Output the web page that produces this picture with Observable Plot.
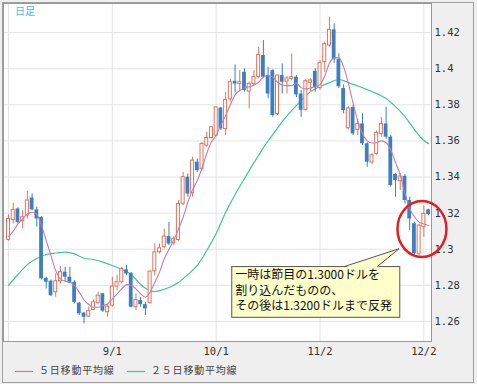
<!DOCTYPE html>
<html><head><meta charset="utf-8">
<script src="https://cdn.jsdelivr.net/npm/d3@7"></script>
<script src="https://cdn.jsdelivr.net/npm/@observablehq/plot@0.6"></script>
<style>
html,body{margin:0;padding:0;background:#fff;}
#chart{position:relative;width:477px;height:384px;}
svg{display:block;}
</style></head><body><div id="chart"></div>
<script>
const dates = ["8/2","8/3","8/4","8/5","8/6","8/9","8/10","8/11","8/12","8/13","8/16","8/17","8/18","8/19","8/20","8/23","8/24","8/25","8/26","8/27","8/30","8/31",
"9/1","9/2","9/3","9/6","9/7","9/8","9/9","9/10","9/13","9/14","9/15","9/16","9/17","9/20","9/21","9/22","9/23","9/24","9/27","9/28","9/29","9/30",
"10/1","10/4","10/5","10/6","10/7","10/8","10/11","10/12","10/13","10/14","10/15","10/18","10/19","10/20","10/21","10/22","10/25","10/26","10/27","10/28","10/29",
"11/1","11/2","11/3","11/4","11/5","11/8","11/9","11/10","11/11","11/12","11/15","11/16","11/17","11/18","11/19","11/22","11/23","11/24","11/25","11/26","11/29","11/30",
"12/1","12/2","12/3"];
const opens = [1.3052,1.3162,1.3223,1.3155,1.3186,1.3284,1.3218,1.3177,1.2839,1.2823,
1.2762,1.2823,1.2873,1.2845,1.2817,1.2701,1.2646,1.2627,1.2664,1.2701,
1.2753,1.2651,1.2688,1.2793,1.2817,1.2886,1.2867,1.2679,1.2716,1.2693,
1.2701,1.2878,1.2983,1.3011,1.3070,1.3033,1.3051,1.3251,1.3399,1.3310,
1.3482,1.3445,1.3574,1.3616,1.3629,1.3782,1.3666,1.3830,1.3930,1.3915,
1.3980,1.3873,1.3916,1.3953,1.4073,1.3962,1.3989,1.3749,1.3962,1.3928,
1.3944,1.3953,1.3860,1.3772,1.3922,1.3985,1.3893,1.4036,1.4128,1.4215,
1.4050,1.3890,1.3670,1.3785,1.3661,1.3694,1.3584,1.3480,1.3528,1.3639,
1.3694,1.3621,1.3414,1.3377,1.3403,1.3270,1.3141,1.2975,1.3122,1.3218];
const highs = [1.3190,1.3255,1.3230,1.3214,1.3321,1.3307,1.3233,1.3180,1.2845,1.2830,
1.2863,1.2904,1.2900,1.2900,1.2826,1.2706,1.2650,1.2679,1.2719,1.2762,
1.2756,1.2697,1.2845,1.2854,1.2900,1.2910,1.2870,1.2753,1.2734,1.2706,
1.2880,1.3030,1.3029,1.3112,1.3149,1.3070,1.3269,1.3426,1.3417,1.3509,
1.3500,1.3592,1.3648,1.3679,1.3786,1.3786,1.3869,1.3940,1.4021,1.3990,
1.3999,1.3925,1.3989,1.4119,1.4156,1.4008,1.3995,1.3962,1.4026,1.3955,
1.4082,1.3962,1.3880,1.3940,1.3945,1.4000,1.4045,1.4146,1.4285,1.4248,
1.4083,1.3910,1.3790,1.3795,1.3720,1.3750,1.3590,1.3530,1.3655,1.3731,
1.3787,1.3630,1.3418,1.3418,1.3414,1.3288,1.3150,1.3140,1.3242,1.3222];
const lows = [1.3045,1.3140,1.3140,1.3113,1.3168,1.3214,1.3122,1.2830,1.2780,1.2738,
1.2734,1.2808,1.2817,1.2808,1.2697,1.2633,1.2587,1.2623,1.2660,1.2697,
1.2651,1.2623,1.2679,1.2771,1.2808,1.2854,1.2675,1.2660,1.2679,1.2633,
1.2697,1.2854,1.2974,1.3002,1.3020,1.3020,1.3044,1.3242,1.3288,1.3288,
1.3426,1.3435,1.3565,1.3611,1.3624,1.3657,1.3629,1.3815,1.3866,1.3870,
1.3870,1.3777,1.3905,1.3945,1.3945,1.3833,1.3731,1.3740,1.3860,1.3860,
1.3934,1.3840,1.3731,1.3765,1.3870,1.3870,1.3880,1.3980,1.4120,1.4030,
1.3890,1.3750,1.3660,1.3630,1.3630,1.3575,1.3454,1.3470,1.3520,1.3620,
1.3610,1.3345,1.3288,1.3325,1.3250,1.3104,1.2965,1.2965,1.3067,1.3185];
const closes = [1.3168,1.3218,1.3149,1.3177,1.3270,1.3218,1.3168,1.2836,1.2817,1.2743,
1.2823,1.2873,1.2845,1.2812,1.2706,1.2642,1.2623,1.2657,1.2706,1.2743,
1.2657,1.2682,1.2793,1.2817,1.2891,1.2863,1.2679,1.2719,1.2693,1.2670,
1.2876,1.2983,1.3005,1.3070,1.3029,1.3057,1.3251,1.3399,1.3306,1.3491,
1.3435,1.3583,1.3616,1.3675,1.3786,1.3666,1.3827,1.3925,1.3915,1.3925,
1.3879,1.3916,1.3953,1.4076,1.3953,1.3860,1.3740,1.3962,1.3925,1.3947,
1.3953,1.3855,1.3770,1.3931,1.3935,1.3895,1.4030,1.4137,1.4215,1.4050,
1.3900,1.3768,1.3780,1.3639,1.3694,1.3584,1.3482,1.3520,1.3645,1.3694,
1.3621,1.3353,1.3381,1.3403,1.3270,1.3168,1.2975,1.3131,1.3196,1.3192];
const ma5 = [1.3070,1.3100,1.3140,1.3168,1.3196,1.3205,1.3192,1.3131,1.3048,1.2965,
1.2882,1.2836,1.2823,1.2819,1.2799,1.2762,1.2719,1.2694,1.2679,1.2679,
1.2688,1.2697,1.2725,1.2753,1.2780,1.2804,1.2799,1.2780,1.2753,1.2734,
1.2762,1.2817,1.2873,1.2946,1.3000,1.3050,1.3110,1.3177,1.3260,1.3330,
1.3380,1.3450,1.3530,1.3595,1.3630,1.3690,1.3740,1.3800,1.3855,1.3880,
1.3895,1.3900,1.3910,1.3925,1.3953,1.3962,1.3953,1.3925,1.3910,1.3906,
1.3906,1.3920,1.3895,1.3888,1.3893,1.3900,1.3912,1.3960,1.4030,1.4060,
1.4060,1.4010,1.3920,1.3810,1.3710,1.3640,1.3600,1.3588,1.3590,1.3600,
1.3590,1.3550,1.3480,1.3410,1.3310,1.3225,1.3180,1.3150,1.3140,1.3131];
const ma25Days = [0,2,4,6,8,10,12,14,16,18,20,22,24,26,28,30,31,32,34,36,38,40,42,44,46,48,50,52,53,54,56,58,60,62,64,66,68,70,71,72,74,76,78,80,82,84,86,88,89];
const ma25Values = [1.2800,1.2860,1.2915,1.2949,1.2971,1.2979,1.2984,1.2974,1.2950,1.2943,1.2929,1.2910,1.2888,1.2860,1.2805,1.2771,
1.2766,1.2771,1.2788,1.2816,1.2860,1.2910,1.2993,1.3087,1.3203,1.3303,1.3392,1.3480,
1.3519,1.3563,1.3635,1.3707,1.3768,1.3823,1.3873,1.3901,1.3923,1.3940,
1.3934,1.3923,1.3904,1.3884,1.3862,1.3835,1.3790,1.3735,1.3663,1.3602,1.3585];
const yTicks = [1.26,1.28,1.30,1.32,1.34,1.36,1.38,1.40,1.42];
const xTickLabels = ["9/1","10/1","11/2","12/2"];
const gridDates = ["8/2","9/1","10/1","11/2","12/2"];
const legendLabels = ["５日移動平均線","２５日移動平均線"];
const calloutLines = ["一時は節目の1.3000ドルを","割り込んだものの、","その後は1.3200ドルまで反発"];
const periodLabel = "日足";

const UP = "#e3735a", DOWN = "#3b7fc1", MA5C = "#c77aa9", MA25C = "#3ec88d";
const candles = dates.map((d, i) => ({i, date: d, open: opens[i], high: highs[i], low: lows[i], close: closes[i], up: closes[i] >= opens[i]}));
const ups = candles.filter(d => d.up), downs = candles.filter(d => !d.up);
const ma5Data = ma5.map((v, i) => ({i, v}));
const ma25Data = ma25Days.map((d, k) => ({i: d, v: ma25Values[k]}));
const xTickIdx = xTickLabels.map(l => dates.indexOf(l));
const gridIdx = gridDates.map(l => dates.indexOf(l));

const W = 477, H = 384;
const plot = Plot.plot({
  width: W, height: H,
  marginLeft: 3, marginRight: 46, marginTop: 3, marginBottom: 43,
  style: {background: "#efefef", fontFamily: "'DejaVu Sans Mono', monospace", fontSize: "10.5px", color: "#333", overflow: "visible"},
  x: {type: "linear", domain: [-1.06, 89.62], ticks: xTickIdx, tickFormat: i => dates[i], tickSize: 0, tickPadding: 6, label: null},
  y: {type: "linear", domain: [1.2489, 1.4361], ticks: yTicks, tickFormat: d => String(+d.toFixed(2)), tickSize: 0, tickPadding: 3, label: null, axis: "right"},
  marks: [
    Plot.frame({fill: "white"}),
    Plot.ruleY(yTicks, {stroke: "#e4e4e4", strokeWidth: 1}),
    Plot.ruleX(gridIdx, {stroke: "#e4e4e4", strokeWidth: 1}),
    Plot.line(ma25Data, {x: "i", y: "v", stroke: MA25C, strokeWidth: 1.2, curve: "monotone-x"}),
    Plot.ruleX(downs, {x: "i", y1: "low", y2: "high", stroke: DOWN, strokeWidth: 1}),
    Plot.ruleX(ups, {x: "i", y1: "low", y2: "high", stroke: UP, strokeWidth: 1}),
    Plot.rect(downs, {x1: d => d.i - 0.4, x2: d => d.i + 0.4, y1: "open", y2: "close", fill: DOWN}),
    Plot.rect(ups, {x1: d => d.i - 0.32, x2: d => d.i + 0.32, y1: "open", y2: "close", fill: "white", stroke: UP, strokeWidth: 1}),
    Plot.line(ma5Data, {x: "i", y: "v", stroke: MA5C, strokeWidth: 1.1, curve: "monotone-x"}),
    Plot.frame({stroke: "#999"})
  ]
});
document.getElementById("chart").appendChild(plot);

const xs = plot.scale("x"), ys = plot.scale("y");
const X = xs.apply ? v => xs.apply(v) : d3.scaleLinear(xs.domain, xs.range);
const Y = ys.apply ? v => ys.apply(v) : d3.scaleLinear(ys.domain, ys.range);
const svg = d3.select(plot);

// period label
svg.append("text").attr("x", 15).attr("y", 12).attr("dominant-baseline", "middle").attr("text-anchor", "start")
  .attr("fill", "#55b8e6").attr("font-family", "'Noto Sans CJK JP', sans-serif").attr("font-size", 10)
  .text(periodLabel);

// callout box anchored at data coordinates
const bx1 = X(47.3), bx2 = X(82.9), by1 = Y(1.2904), by2 = Y(1.2623);
const tipX = X(82.85), tipY = Y(1.3000);
const g = svg.append("g").attr("text-anchor", "start");
g.append("rect").attr("x", bx1 + 0.5).attr("y", by1 + 0.5).attr("width", bx2 - bx1).attr("height", by2 - by1)
  .attr("fill", "#ffffcc").attr("stroke", "#555").attr("stroke-width", 1);
const b1 = bx1 + 113, b2 = bx1 + 146;
g.append("path").attr("d", `M${b1},${by1 + 1.5}L${tipX},${tipY}L${b2},${by1 + 1.5}Z`).attr("fill", "#ffffcc").attr("stroke", "none");
g.append("path").attr("d", `M${b1},${by1 + 0.5}L${tipX},${tipY}L${b2},${by1 + 0.5}`).attr("fill", "none").attr("stroke", "#555").attr("stroke-width", 1);
calloutLines.forEach((t, k) => {
  g.append("text").attr("x", bx1 + 4).attr("y", by1 + 10 + k * 15.5).attr("dominant-baseline", "middle").attr("text-anchor", "start")
    .attr("font-family", "'Noto Sans CJK JP', sans-serif").attr("font-size", 12).attr("fill", "#111").text(t);
});

// red ellipse around the rebound
svg.append("ellipse").attr("cx", X(87.7)).attr("cy", Y(1.3109)).attr("rx", 24.5).attr("ry", 28)
  .attr("fill", "none").attr("stroke", "#e41e1e").attr("stroke-width", 2.5);

// legend
const leg = svg.append("g").attr("font-family", "'Noto Sans CJK JP', sans-serif").attr("font-size", 10).attr("fill", "#444").attr("text-anchor", "start");
const legX = [15, 127], legC = [MA5C, MA25C];
legendLabels.forEach((t, k) => {
  leg.append("line").attr("x1", legX[k]).attr("x2", legX[k] + 18).attr("y1", 371.5).attr("y2", 371.5).attr("stroke", legC[k]).attr("stroke-width", 1.2);
  leg.append("text").attr("x", legX[k] + 24).attr("y", 371).attr("dominant-baseline", "middle").attr("text-anchor", "start").attr("letter-spacing", 0.8).text(t);
});

// outer panel border
svg.append("rect").attr("x", 2.5).attr("y", 2.5).attr("width", 471).attr("height", 380)
  .attr("fill", "none").attr("stroke", "#a0a0a0");
</script></body></html>
